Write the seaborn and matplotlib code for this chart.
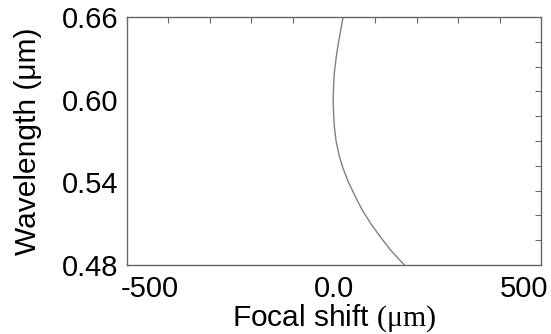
import matplotlib
matplotlib.use("Agg")
import matplotlib.pyplot as plt
import matplotlib.transforms as mtransforms
import numpy as np
import pandas as pd
import seaborn as sns

# Data
wavelength = [0.48, 0.49, 0.50, 0.51, 0.52, 0.53, 0.54, 0.55, 0.56, 0.57,
              0.58, 0.59, 0.60, 0.61, 0.62, 0.63, 0.64, 0.65, 0.66]
focal_shift = [170, 139, 113, 89, 68, 51, 35, 22, 12, 5,
               1, -1, -2, -1, 1, 5, 10, 16, 22]
x_tick_labels = ["-500", "0.0", "500"]
y_tick_labels = ["0.48", "0.54", "0.60", "0.66"]

df = pd.DataFrame({"shift": focal_shift, "wl": wavelength})

sns.set_style("white")
plt.rcParams["font.family"] = ["Liberation Sans", "DejaVu Sans"]
plt.rcParams["mathtext.fontset"] = "custom"
plt.rcParams["mathtext.rm"] = "Liberation Serif"
plt.rcParams["mathtext.it"] = "Liberation Serif:italic"
plt.rcParams["text.color"] = "black"
plt.rcParams["xtick.color"] = "black"
plt.rcParams["ytick.color"] = "black"
plt.rcParams["axes.labelcolor"] = "black"

fig = plt.figure(figsize=(5.51, 3.34), dpi=100)
ax = fig.add_axes([127 / 551, 1 - 265 / 334, 414 / 551, 248 / 334])

sns.lineplot(data=df, x="shift", y="wl", ax=ax, sort=False, estimator=None,
             color="#808080", linewidth=1.0)

ax.set_xlim(-500, 500)
ax.set_ylim(0.48, 0.66)

ax.set_xticks([-500, 0, 500])
ax.set_xticklabels(x_tick_labels)
ax.set_xticks(np.arange(-400, 500, 100), minor=True)
ax.set_yticks([0.48, 0.54, 0.60, 0.66])
ax.set_yticklabels(y_tick_labels)
ax.set_yticks(np.arange(0.498, 0.66, 0.018), minor=True)

ax.tick_params(axis="both", which="minor", direction="in", length=4.5,
               width=0.8, color="#666666", top=True, right=True)
ax.tick_params(axis="both", which="major", direction="in", length=0,
               labelsize=21, top=True, right=True)
ax.tick_params(axis="x", which="major", pad=7)
ax.tick_params(axis="y", which="major", pad=6)

for s in ax.spines.values():
    s.set_color("#666666")
    s.set_linewidth(1.0)

xl = ax.get_xticklabels()
xl[0].set_horizontalalignment("left")
xl[0].set_transform(xl[0].get_transform() +
                    mtransforms.ScaledTranslation(-6 / 100, 0, fig.dpi_scale_trans))
xl[-1].set_horizontalalignment("right")
xl[-1].set_transform(xl[-1].get_transform() +
                     mtransforms.ScaledTranslation(7 / 100, 0, fig.dpi_scale_trans))

ax.set_xlabel(r"Focal shift $\mathrm{(μm)}$", fontsize=21.5)
ax.set_ylabel("Wavelength (μm)", fontsize=21.5)
ax.xaxis.set_label_coords(0.5, -0.15)
ax.yaxis.set_label_coords(-0.205, 0.5)

fig.savefig("out.png", dpi=100)
